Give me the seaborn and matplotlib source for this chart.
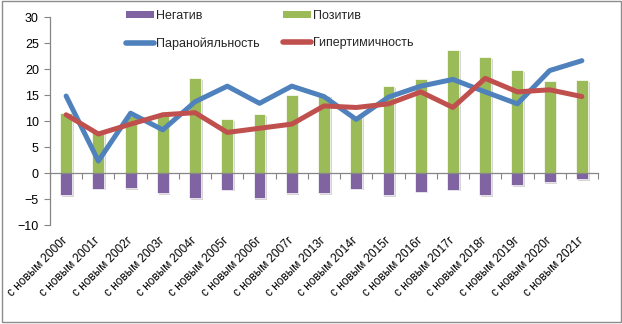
import numpy as np
import pandas as pd
import matplotlib
matplotlib.use("Agg")
import matplotlib.pyplot as plt
import matplotlib.patheffects as pe
from matplotlib.patches import Patch, Rectangle
from matplotlib.lines import Line2D
import seaborn as sns

# Survey waves
years = ["2000", "2001", "2002", "2003", "2004", "2005", "2006", "2007",
         "2013", "2014", "2015", "2016", "2017", "2018", "2019", "2020", "2021"]
categories = [f"с новым {y}г" for y in years]

# Bar series
negative = [-4.2, -3.0, -2.9, -3.9, -4.8, -3.2, -4.8, -3.9,
            -3.9, -3.0, -4.2, -3.6, -3.2, -4.2, -2.4, -1.7, -1.2]
positive = [11.5, 8.0, 11.0, 11.3, 18.3, 10.4, 11.3, 15.0,
            14.9, 11.0, 16.7, 18.1, 23.7, 22.3, 19.8, 17.7, 17.9]

# Line series
paranoid = [14.8, 2.3, 11.5, 8.3, 13.7, 16.7, 13.4, 16.7,
            14.7, 10.3, 14.6, 16.7, 18.0, 15.6, 13.3, 19.7, 21.6]
hyperthymic = [11.2, 7.5, 9.4, 11.2, 11.6, 7.8, 8.6, 9.4,
               12.9, 12.6, 13.3, 15.6, 12.6, 18.2, 15.6, 16.0, 14.7]

series_names = ["Негатив", "Позитив", "Паранойяльность", "Гипертимичность"]
colors = ["#8064A2", "#9BBB59", "#4F81BD", "#C0504D"]
y_ticks = [-10, -5, 0, 5, 10, 15, 20, 25, 30]

df = pd.DataFrame({
    "cat": categories,
    "neg": negative,
    "pos": positive,
    "par": paranoid,
    "hyp": hyperthymic,
})

sns.set_theme(style="white")
plt.rcParams["font.family"] = ["Liberation Sans", "DejaVu Sans"]

W, H = 622, 324
fig = plt.figure(figsize=(W / 100, H / 100), dpi=100)
fig.patch.set_facecolor("white")
ax = fig.add_axes([50 / W, 1 - 225 / H, 548 / W, 208 / H])

grey = "#868686"

sns.barplot(data=df, x="cat", y="pos", color=colors[1], saturation=1,
            width=0.37, edgecolor="white", linewidth=0.5, ax=ax, zorder=2)
sns.barplot(data=df, x="cat", y="neg", color=colors[0], saturation=1,
            width=0.37, edgecolor="white", linewidth=0.5, ax=ax, zorder=2)
shadow = [pe.SimplePatchShadow(offset=(1.2, -1.2), shadow_rgbFace="#9a9a9a", alpha=0.4),
          pe.Normal()]
for p in ax.patches:
    p.set_path_effects(shadow)

n_before = len(ax.lines)
sns.pointplot(data=df, x="cat", y="par", color=colors[2], markers="",
              errorbar=None, ax=ax)
sns.pointplot(data=df, x="cat", y="hyp", color=colors[3], markers="",
              errorbar=None, ax=ax)
for i, ln in enumerate(ax.lines[n_before:]):
    ln.set_linewidth(3.6)
    ln.set_solid_capstyle("round")
    ln.set_solid_joinstyle("round")
    ln.set_zorder(4 + i)

ax.set_xlim(-0.5, len(categories) - 0.5)
ax.set_ylim(-10, 30)
ax.set_xlabel("")
ax.set_ylabel("")

# value axis
ax.set_yticks(y_ticks)
ax.tick_params(axis="y", which="major", direction="out", length=4, width=0.8,
               color=grey, pad=4, labelsize=9, labelcolor="black", left=True)
for s in ("top", "right"):
    ax.spines[s].set_visible(False)
ax.spines["left"].set_color(grey)
ax.spines["left"].set_linewidth(0.9)

# category axis line crossing at zero, ticks between categories
ax.spines["bottom"].set_position(("data", 0))
ax.spines["bottom"].set_color(grey)
ax.spines["bottom"].set_linewidth(0.9)
ax.set_xticks(np.arange(-0.5, len(categories), 1.0))
ax.set_xticklabels([])
ax.tick_params(axis="x", direction="out", length=4, width=0.8, color=grey,
               bottom=True)

# category labels below the plot area
sec = ax.secondary_xaxis(0)
sec.set_xticks(np.arange(len(categories)), labels=categories)
sec.tick_params(axis="x", length=0, pad=10, labelsize=8.5, labelcolor="black")
sec.spines["bottom"].set_visible(False)
plt.setp(sec.get_xticklabels(), rotation=45, ha="right", va="center",
         rotation_mode="anchor")

handles = [
    Patch(facecolor=colors[0], edgecolor="none"),
    Line2D([], [], color=colors[2], lw=4, solid_capstyle="round"),
    Patch(facecolor=colors[1], edgecolor="none"),
    Line2D([], [], color=colors[3], lw=4, solid_capstyle="round"),
]
labels = [series_names[0], series_names[2], series_names[1], series_names[3]]
fig.legend(handles, labels, ncol=2, loc="upper left",
           bbox_to_anchor=(126 / W, 1 - 10 / H), frameon=False, fontsize=9,
           handlelength=2.2, handleheight=0.45, handletextpad=0.2,
           columnspacing=1.9, labelspacing=1.2, borderaxespad=0, borderpad=0)

# chart border
fig.add_artist(Rectangle((1.5 / W, 2.5 / H), (W - 3) / W, (H - 3) / H,
                         transform=fig.transFigure, fill=False,
                         edgecolor="#8c8c8c", linewidth=1.0))

fig.savefig("out.png", dpi=100)
